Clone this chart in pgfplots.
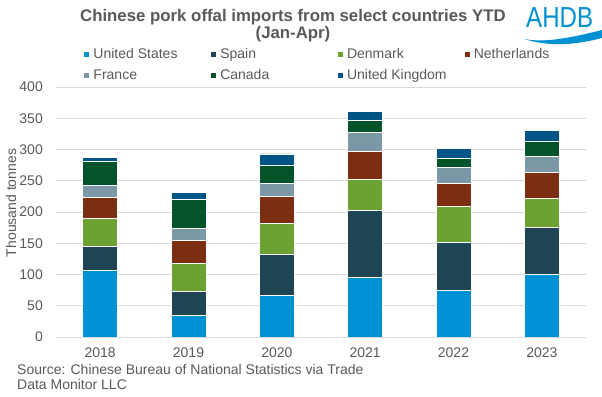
\documentclass[border=0pt]{standalone}
\usepackage{fontspec}
\setmainfont{Liberation Sans}
\usepackage{pgfplots}
\pgfplotsset{compat=1.18}
\definecolor{cUS}{HTML}{0091D5}
\definecolor{cES}{HTML}{1F4453}
\definecolor{cDK}{HTML}{6BA231}
\definecolor{cNL}{HTML}{7B2F10}
\definecolor{cFR}{HTML}{7C97A5}
\definecolor{cCA}{HTML}{03542B}
\definecolor{cUK}{HTML}{005587}
\definecolor{txt}{HTML}{595959}
\definecolor{gridc}{HTML}{D9D9D9}
\pgfplotsset{sq/.style={draw=white, line width=0.6bp, legend image code/.code={\fill[##1,draw=none] (0bp,-2.5bp) rectangle (5bp,2.5bp); \path (7bp,0bp);}}}
\begin{document}
\begin{tikzpicture}
\useasboundingbox (0,0) rectangle (602bp,397bp);
\begin{axis}[
  at={(56bp,60bp)}, anchor=south west,
  scale only axis, width=530bp, height=250bp,
  xmin=-0.5, xmax=5.5, ymin=0, ymax=400,
  ybar stacked, bar width=35bp,
  xtick={0,1,2,3,4,5}, xticklabels={2018,2019,2020,2021,2022,2023},
  ytick={0,50,...,400},
  ymajorgrids, grid style={color=gridc, line width=0.75bp},
  axis line style={draw=none},
  major tick length=0pt,
  tick label style={font=\fontsize{14bp}{16bp}\selectfont, text=txt},
  /pgf/number format/assume math mode=true,
  yticklabel style={anchor=east, inner sep=0pt, xshift=-13bp},
  xticklabel style={anchor=north, inner sep=0pt, yshift=-11bp},
  legend columns=4,
  legend cell align=left,
  legend style={at={(axis description cs:0.0528,1.162)}, anchor=north west,
    draw=none, fill=none, inner sep=0pt,
    font=\fontsize{14bp}{16bp}\selectfont, text=txt,
    /tikz/every even column/.append style={column sep=15.5bp},
    row sep=5bp},
]
\addplot[sq, fill=cUS] coordinates {(0,107) (1,35) (2,67) (3,96) (4,74) (5,100)};
\addlegendentry{\makebox[100bp][l]{United States}}
\addplot[sq, fill=cES] coordinates {(0,38) (1,38) (2,65) (3,106) (4,77) (5,75)};
\addlegendentry{\makebox[100bp][l]{Spain}}
\addplot[sq, fill=cDK] coordinates {(0,45) (1,45) (2,50) (3,50) (4,58) (5,47)};
\addlegendentry{\makebox[100bp][l]{Denmark}}
\addplot[sq, fill=cNL] coordinates {(0,33) (1,37) (2,43) (3,45) (4,37) (5,42)};
\addlegendentry{\makebox[100bp][l]{Netherlands}}
\addplot[sq, fill=cFR] coordinates {(0,20) (1,19) (2,21) (3,30) (4,25) (5,25)};
\addlegendentry{\makebox[100bp][l]{France}}
\addplot[sq, fill=cCA] coordinates {(0,38) (1,47) (2,29) (3,19) (4,15) (5,24)};
\addlegendentry{\makebox[100bp][l]{Canada}}
\addplot[sq, fill=cUK] coordinates {(0,7) (1,11) (2,18) (3,15) (4,16) (5,17)};
\addlegendentry{\makebox[100bp][l]{United Kingdom}}
\end{axis}
% title
\node[anchor=base, inner sep=0pt, text=txt, font=\fontsize{16.8bp}{18bp}\selectfont\bfseries] at (293bp,375bp) {Chinese pork offal imports from select countries YTD};
\node[anchor=base, inner sep=0pt, text=txt, font=\fontsize{16.8bp}{18bp}\selectfont\bfseries] at (293bp,358bp) {(Jan-Apr)};
% y label
\node[rotate=90, inner sep=0pt, text=txt, font=\fontsize{14bp}{16bp}\selectfont] at (11bp,194bp) {Thousand tonnes};
% source
\node[anchor=base west, inner sep=0pt, text=txt, font=\fontsize{14bp}{16bp}\selectfont] at (17bp,23bp) {Source: Chinese Bureau of National Statistics via Trade};
\node[anchor=base west, inner sep=0pt, text=txt, font=\fontsize{14bp}{16bp}\selectfont] at (17bp,8bp) {Data Monitor LLC};
% logo
\node[anchor=base west, inner sep=0pt, text=cUS, font=\fontsize{29bp}{30bp}\selectfont] at (526bp,369bp) {\scalebox{0.83}[1]{AHDB}};
\fill[cUS] (524bp,358bp) .. controls (545bp,354bp) and (570bp,359bp) .. (602bp,367bp) -- (602bp,359bp) .. controls (575bp,352bp) and (550bp,350bp) .. (524bp,358bp) -- cycle;
\end{tikzpicture}
\end{document}
